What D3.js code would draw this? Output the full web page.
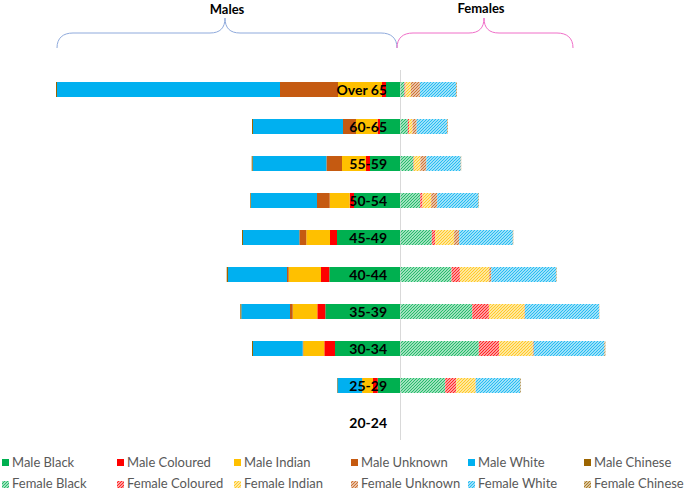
<!DOCTYPE html>
<html><head><meta charset="utf-8">
<script src="https://cdn.jsdelivr.net/npm/d3@7"></script>
<style>body{margin:0;background:#fff}svg{display:block}</style>
</head><body><div id="chart"></div>
<script>
const categories = ["Over 65","60-65","55-59","50-54","45-49","40-44","35-39","30-34","25-29","20-24"];
const groups = ["Black","Coloured","Indian","Unknown","White","Chinese"];
const maleBlack    = [14, 20, 30, 46, 63, 70.7, 74.7, 65, 22.3, 0];
const maleColoured = [4, 2.5, 4, 4.3, 7, 8.3, 8, 10.7, 4.7, 0];
const maleIndian   = [44, 21.5, 24, 20, 23.7, 32.3, 24.6, 21, 10.7, 0];
const maleUnknown  = [58, 13, 15.6, 12.7, 7, 1.7, 2.7, 0.6, 0.3, 0];
const maleWhite    = [223, 90, 73.7, 66, 56.3, 59, 48.7, 49.7, 24.5, 0];
const maleChinese  = [1, 1, 1, 0.7, 1, 1.3, 1, 1, 0.5, 0];
const femaleBlack    = [4, 7.3, 13, 19.7, 31.3, 51, 71.7, 78.3, 44.7, 0];
const femaleColoured = [1, 1.3, 0.4, 2.3, 3.3, 8.4, 16.7, 20.3, 11, 0];
const femaleIndian   = [5.4, 3.3, 6.5, 8.7, 19, 29.3, 35.6, 33.7, 19.3, 0];
const femaleUnknown  = [9, 4.3, 6, 6, 5, 2, 0.5, 1, 0.3, 0];
const femaleWhite    = [36.3, 30.3, 34.3, 41.3, 53.7, 65, 74, 70.6, 44.4, 0];
const femaleChinese  = [0.7, 0.7, 0.5, 0.5, 0.5, 0.5, 0.3, 1, 0.7, 0];
const colors = {Black:"#00B050",Coloured:"#FF0000",Indian:"#FFC000",Unknown:"#C55A11",White:"#00B0F0",Chinese:"#9C6500"};

const W=685,H=491;
const svg=d3.select("#chart").append("svg").attr("width",W).attr("height",H);
const defs=svg.append("defs");
groups.forEach(g=>{
  const p=defs.append("pattern").attr("id","hatch-"+g).attr("patternUnits","userSpaceOnUse")
    .attr("width",3).attr("height",3);
  p.append("rect").attr("width",3).attr("height",3).attr("fill","#fff");
  p.append("path").attr("d","M-1,1 l2,-2 M0,3 l3,-3 M2,4 l2,-2")
    .attr("stroke",colors[g]).attr("stroke-width",1.3).attr("opacity",0.85);
});

const maleData = categories.map((c,i)=>({cat:c,Black:maleBlack[i],Coloured:maleColoured[i],Indian:maleIndian[i],Unknown:maleUnknown[i],White:maleWhite[i],Chinese:maleChinese[i]}));
const femaleData = categories.map((c,i)=>({cat:c,Black:femaleBlack[i],Coloured:femaleColoured[i],Indian:femaleIndian[i],Unknown:femaleUnknown[i],White:femaleWhite[i],Chinese:femaleChinese[i]}));

const y=d3.scaleBand().domain(categories).range([60,452]).padding(0.595);
const xM=d3.scaleLinear().domain([0,344]).range([400,56]);
const xF=d3.scaleLinear().domain([0,344]).range([400,744]);

const stack=d3.stack().keys(groups);
const mS=stack(maleData), fS=stack(femaleData);

// axis line
svg.append("line").attr("x1",400.5).attr("x2",400.5).attr("y1",70).attr("y2",440)
  .attr("stroke","#D9D9D9").attr("stroke-width",1);

svg.append("g").selectAll("g").data(mS).join("g").attr("fill",d=>colors[d.key])
  .selectAll("rect").data(d=>d).join("rect")
  .attr("x",d=>xM(d[1])).attr("width",d=>xM(d[0])-xM(d[1]))
  .attr("y",d=>y(d.data.cat)).attr("height",y.bandwidth());

svg.append("g").selectAll("g").data(fS).join("g").attr("fill",d=>"url(#hatch-"+d.key+")")
  .selectAll("rect").data(d=>d).join("rect")
  .attr("x",d=>xF(d[0])+0.5).attr("width",d=>xF(d[1])-xF(d[0]))
  .attr("y",d=>y(d.data.cat)).attr("height",y.bandwidth());

// category labels
svg.append("g").selectAll("text").data(categories).join("text")
  .attr("x",387).attr("y",d=>y(d)+y.bandwidth()/2).attr("dy","0.36em")
  .attr("text-anchor","end").attr("font-family","Lato, 'Open Sans', sans-serif")
  .attr("font-weight","bold").attr("font-size",14).attr("fill","#000").text(d=>d);

// braces
svg.append("path").attr("d","M57,48 C57,38 63,33 73,33 L210,33 C220,33 225,28 225,18 C225,28 230,33 240,33 L381,33 C391,33 397,38 397,48")
  .attr("fill","none").attr("stroke","#8FAADC").attr("stroke-width",1);
svg.append("path").attr("d","M397,48 C397,38 403,33 413,33 L469,33 C479,33 484,28 484,18 C484,28 489,33 499,33 L557,33 C567,33 573,38 573,48")
  .attr("fill","none").attr("stroke","#F06EC8").attr("stroke-width",1);
svg.append("text").attr("x",227).attr("y",13.5).attr("text-anchor","middle")
  .attr("font-family","Lato, sans-serif").attr("font-weight","bold").attr("font-size",13).text("Males");
svg.append("text").attr("x",481).attr("y",13).attr("text-anchor","middle")
  .attr("font-family","Lato, sans-serif").attr("font-weight","bold").attr("font-size",13).text("Females");

// legend
const legX=[2,117,234,351,468,584];
const leg=svg.append("g").attr("font-family","Lato, sans-serif").attr("font-size",13).attr("fill","#595959");
groups.forEach((g,i)=>{
  leg.append("rect").attr("x",legX[i]).attr("y",459).attr("width",7).attr("height",7).attr("fill",colors[g]);
  leg.append("text").attr("x",legX[i]+10).attr("y",467).text("Male "+g);
  leg.append("rect").attr("x",legX[i]).attr("y",481).attr("width",7).attr("height",7).attr("fill","url(#hatch-"+g+")");
  leg.append("text").attr("x",legX[i]+10).attr("y",487.5).text("Female "+g);
});
</script></body></html>
